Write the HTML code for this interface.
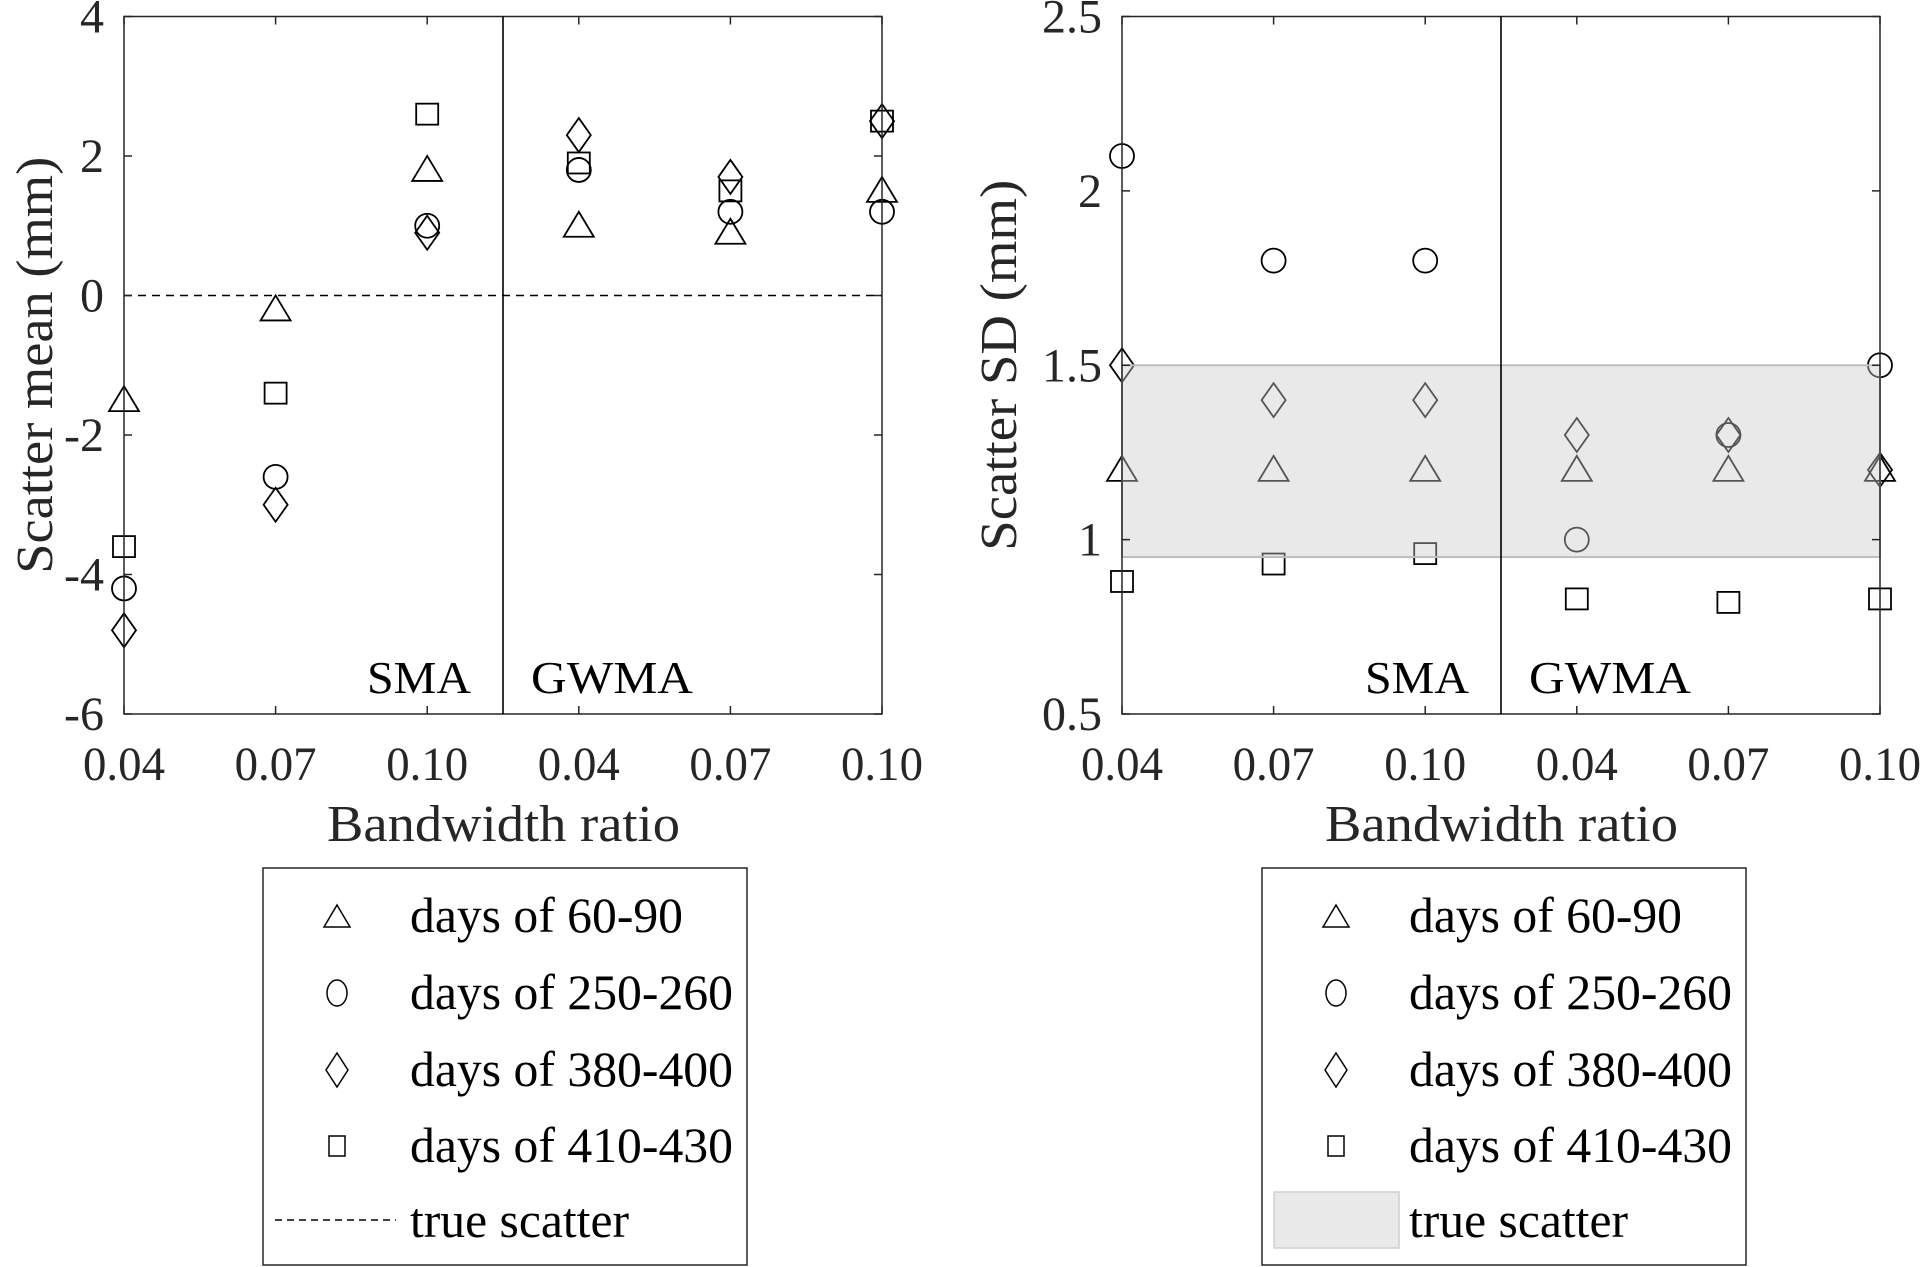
<!DOCTYPE html>
<html><head><meta charset="utf-8"><style>
html,body{margin:0;padding:0;background:#fff;}
svg{display:block;}
text{font-family:"Liberation Serif","DejaVu Serif","Times New Roman",serif;}
</style></head><body>
<svg id="fig" width="1924" height="1267" viewBox="0 0 1924 1267" xmlns="http://www.w3.org/2000/svg"></svg>
<script>
// categories (bandwidth ratio, SMA then GWMA)
const categories = ["0.04","0.07","0.10","0.04","0.07","0.10"];
// left chart: scatter mean (mm)
const meanTri = [-1.5,-0.2,1.8,1.0,0.9,1.5];
const meanCirc = [-4.2,-2.6,1.0,1.8,1.2,1.2];
const meanDia = [-4.8,-3.0,0.9,2.3,1.7,2.5];
const meanSq = [-3.6,-1.4,2.6,1.9,1.5,2.5];
const meanTicks = [4,2,0,-2,-4,-6];
const meanTrue = 0;
// right chart: scatter SD (mm)
const sdTri = [1.2,1.2,1.2,1.2,1.2,1.2];
const sdCirc = [2.1,1.8,1.8,1.0,1.3,1.5];
const sdDia = [1.5,1.4,1.4,1.3,1.3,1.2];
const sdSq = [0.88,0.93,0.96,0.83,0.82,0.83];
const sdTicks = [2.5,2,1.5,1,0.5];
const sdTrueLow = 0.95;
const sdTrueHigh = 1.5;
const legendLabels = ["days of 60-90","days of 250-260","days of 380-400","days of 410-430","true scatter"];
const legendWidths = [273,323,323,323,219];

const NS="http://www.w3.org/2000/svg";
const svg=document.getElementById('fig');
function mk(tag,attrs,parent){const e=document.createElementNS(NS,tag);for(const k in attrs)e.setAttribute(k,attrs[k]);(parent||svg).appendChild(e);return e;}
function txt(s,attrs,parent,len){attrs['font-family']='Liberation Serif, DejaVu Serif, Times New Roman, serif';if(len){attrs.textLength=len;attrs.lengthAdjust='spacingAndGlyphs';}const e=mk('text',attrs,parent);e.textContent=s;return e;}

function marker(g,type,x,y,color){
  const st={fill:'none',stroke:color,'stroke-width':1.8};
  let e;
  if(type==='tri'){e=mk('polygon',Object.assign({points:`${x},${y-14} ${x+15},${y+11} ${x-15},${y+11}`},st),g);}
  else if(type==='circ'){e=mk('circle',Object.assign({cx:x,cy:y,r:12},st),g);}
  else if(type==='dia'){e=mk('polygon',Object.assign({points:`${x},${y-17} ${x+12},${y} ${x},${y+17} ${x-12},${y}`},st),g);}
  else {e=mk('rect',Object.assign({x:x-11,y:y-10.5,width:22,height:21},st),g);}
  return e;
}

function chart(opt){
  const g=mk('g',{});
  
  
  const L=opt.left,R=opt.right,T=16.5,B=714;
  const n=categories.length;
  const xs=i=>L+i*(R-L)/(n-1);
  const ys=v=>B-(v-opt.ymin)/(opt.ymax-opt.ymin)*(B-T);
  const series=[['tri',opt.tri],['circ',opt.circ],['dia',opt.dia],['sq',opt.sq]];
  series.forEach(([t,arr])=>{
    const sg=mk('g',{},g);
    
    
    arr.forEach((v,i)=>{const m=marker(sg,t,xs(i),ys(v),'#000');
      
      });
  });
  if(opt.band){
    const r=mk('rect',{x:L,y:ys(opt.band[1]),width:R-L,height:ys(opt.band[0])-ys(opt.band[1]),fill:'rgb(202,202,202)','fill-opacity':0.42,stroke:'#bdbdbd','stroke-width':2},g);
    
    
  }
  if(opt.line!==undefined){
    const l=mk('line',{x1:L,x2:R,y1:ys(opt.line),y2:ys(opt.line),stroke:'#000','stroke-width':1.6,'stroke-dasharray':'8 6'},g);
    
    
  }
  const box=mk('rect',{x:L,y:T,width:R-L,height:B-T,fill:'none',stroke:'#262626','stroke-width':1.5},g);
  
  
  const dx=(L+R)/2;
  const dv=mk('line',{x1:dx,x2:dx,y1:T,y2:B,stroke:'#000','stroke-width':1.6},g);
  
  
  opt.ticks.forEach(v=>{
    const y=ys(v);
    mk('line',{x1:L,x2:L+8,y1:y,y2:y,stroke:'#262626','stroke-width':1.5},g);
    mk('line',{x1:R,x2:R-8,y1:y,y2:y,stroke:'#262626','stroke-width':1.5},g);
    const t=txt(String(v),{x:L-20,y:y+16,'text-anchor':'end','font-size':48,fill:'#262626'},g);
    
    
  });
  categories.forEach((c,i)=>{
    const x=xs(i);
    mk('line',{x1:x,x2:x,y1:B,y2:B-8,stroke:'#262626','stroke-width':1.5},g);
    mk('line',{x1:x,x2:x,y1:T,y2:T+8,stroke:'#262626','stroke-width':1.5},g);
    const t=txt(c,{x:x,y:780,'text-anchor':'middle','font-size':48,fill:'#262626'},g,82);
    
    
  });
  const s1=txt('SMA',{x:dx-136,y:693,'font-size':46,fill:'#000'},g,104);
  
  
  const s2=txt('GWMA',{x:dx+28,y:693,'font-size':46,fill:'#000'},g,162);
  
  
  const xt=txt('Bandwidth ratio',{x:dx-176,y:841,'font-size':52,fill:'#262626'},g,353);
  
  
  const yt=txt(opt.ytitle,{x:-opt.ylen/2,y:0,'font-size':52,fill:'#262626',transform:`translate(${opt.ytx},${(T+B)/2}) rotate(-90)`},g,opt.ylen);
  
  
  const lg=mk('g',{},g);
  
  
  const lx=opt.legX;
  mk('rect',{x:lx,y:868,width:484,height:397,fill:'#fff',stroke:'#262626','stroke-width':1.5},lg);
  const types=['tri','circ','dia','sq'];
  const base=[932,1009,1086,1162];
  types.forEach((t,i)=>{
    const cy=base[i]-16;
    const ent=mk('g',{},lg);
    
    
    if(t==='tri')mk('polygon',{points:`${lx+74},${cy-11} ${lx+87},${cy+11} ${lx+61},${cy+11}`,fill:'none',stroke:'#000','stroke-width':1.5},ent);
    else if(t==='circ')mk('ellipse',{cx:lx+74,cy:cy,rx:10,ry:13,fill:'none',stroke:'#000','stroke-width':1.5},ent);
    else if(t==='dia')mk('polygon',{points:`${lx+74},${cy-17} ${lx+85},${cy} ${lx+74},${cy+17} ${lx+63},${cy}`,fill:'none',stroke:'#000','stroke-width':1.5},ent);
    else mk('rect',{x:lx+66,y:cy-10,width:16,height:20,fill:'none',stroke:'#000','stroke-width':1.5},ent);
    txt(legendLabels[i],{x:lx+147,y:base[i],'font-size':50,fill:'#000'},ent,legendWidths[i]);
  });
  const le=mk('g',{},lg);
  
  
  if(opt.band){
    mk('rect',{x:lx+12,y:1192,width:125,height:56,fill:'#e9e9e9',stroke:'#cfcfcf','stroke-width':1.5},le);
  } else {
    mk('line',{x1:lx+12,x2:lx+133,y1:1220,y2:1220,stroke:'#000','stroke-width':1.5,'stroke-dasharray':'7 5'},le);
  }
  txt(legendLabels[4],{x:lx+147,y:1237,'font-size':50,fill:'#000'},le,legendWidths[4]);
}

chart({name:'scatter-mean-chart',left:124,right:882,ymin:-6,ymax:4,ticks:meanTicks,tri:meanTri,circ:meanCirc,dia:meanDia,sq:meanSq,line:meanTrue,ytitle:'Scatter mean (mm)',ytx:52,ylen:417,legX:263});
chart({name:'scatter-sd-chart',left:1122,right:1880,ymin:0.5,ymax:2.5,ticks:sdTicks,tri:sdTri,circ:sdCirc,dia:sdDia,sq:sdSq,band:[sdTrueLow,sdTrueHigh],ytitle:'Scatter SD (mm)',ytx:1016,ylen:371,legX:1262});
</script>
</body></html>
